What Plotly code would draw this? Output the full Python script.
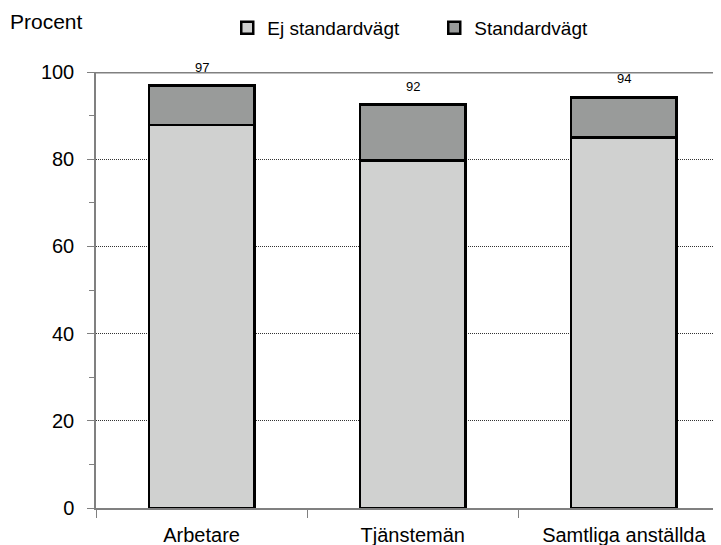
import plotly.graph_objects as go

categories = ["Arbetare", "Tjänstemän", "Samtliga anställda"]
ej_standard = [87.9, 79.7, 85.0]
standard = [9.0, 12.8, 9.2]
total_labels = ["97", "92", "94"]
totals = [a + b for a, b in zip(ej_standard, standard)]

FONT = "Liberation Sans, Arial, sans-serif"

fig = go.Figure()
fig.add_trace(go.Bar(
    x=categories, y=ej_standard, name="Ej standardvägt",
    marker=dict(color="#d0d1d0", line=dict(color="black", width=2.5)),
    width=0.5,
))
fig.add_trace(go.Bar(
    x=categories, y=standard, name="Standardvägt",
    marker=dict(color="#999b9a", line=dict(color="black", width=2.5)),
    width=0.5,
))

for c, t, lab in zip(categories, totals, total_labels):
    fig.add_annotation(x=c, y=t, text=lab, showarrow=False, yanchor="bottom",
                       yshift=9, font=dict(size=13, color="black", family=FONT))

fig.add_annotation(xref="paper", yref="paper", x=-0.141, y=1.115, xanchor="left",
                   yanchor="middle", text="Procent", showarrow=False,
                   font=dict(size=21, color="black", family=FONT))

fig.update_layout(
    width=713, height=537,
    margin=dict(l=88, r=0, t=64, b=37, autoexpand=False),
    barmode="stack",
    plot_bgcolor="white", paper_bgcolor="white",
    font=dict(family=FONT, size=20, color="black"),
    showlegend=True,
    legend=dict(orientation="h", x=0.21, xanchor="left", y=1.101, yanchor="middle",
                traceorder="normal", font=dict(size=19, family=FONT),
                itemwidth=30, entrywidth=162, bgcolor="rgba(0,0,0,0)"),
    xaxis=dict(range=[-0.5, 2.46], showline=True, linecolor="#808080", linewidth=2,
               ticks="outside", tickson="boundaries", ticklen=8, tickcolor="#808080",
               showgrid=False, tickfont=dict(size=20), ticklabelstandoff=8),
    yaxis=dict(range=[0, 100], dtick=20, showline=True, linecolor="#808080", linewidth=1.5,
               ticks="outside", ticklen=7, tickcolor="#808080",
               minor=dict(dtick=10, ticks="outside", ticklen=5, tickcolor="#808080", showgrid=False),
               showgrid=True, gridcolor="#333333", gridwidth=1, griddash="1px,1px",
               zeroline=False, tickfont=dict(size=20), ticklabelstandoff=9),
)
fig.add_shape(type="line", xref="paper", yref="y", x0=0, x1=1, y0=100, y1=100,
              line=dict(color="#808080", width=3), layer="below")

fig.write_html("out.html")
